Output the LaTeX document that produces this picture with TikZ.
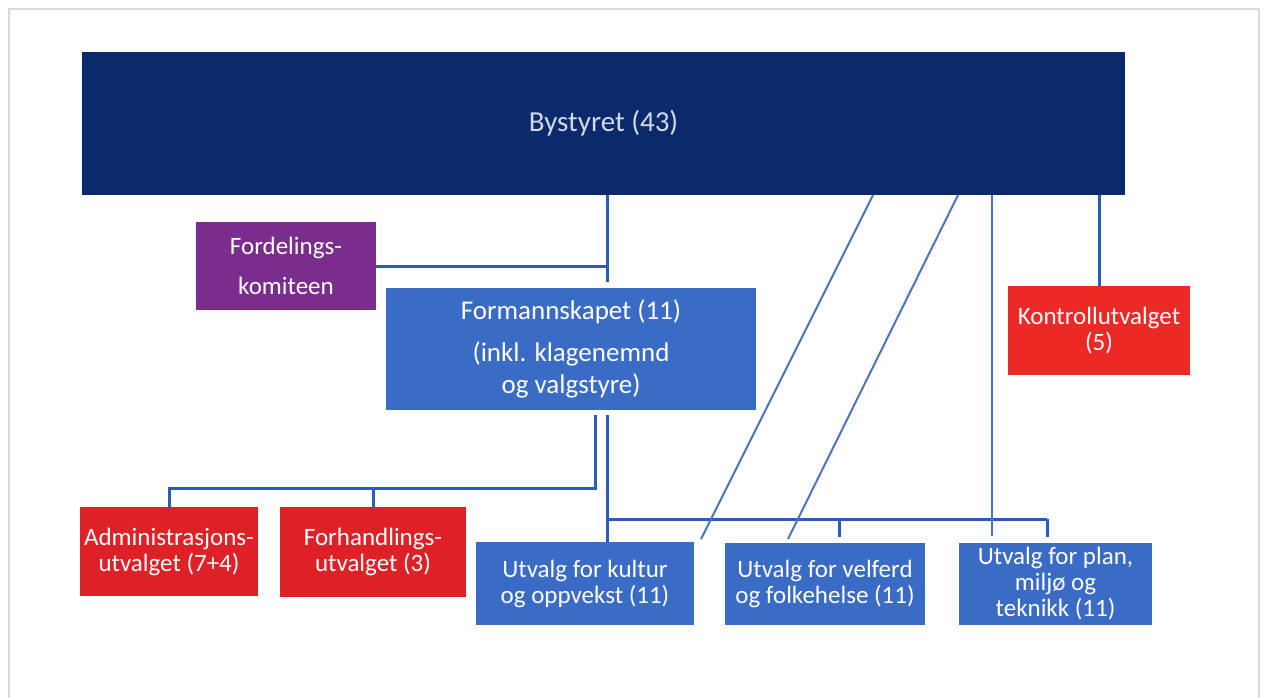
\documentclass[tikz,border=0pt]{standalone}
\usepackage{fontspec}
\setmainfont{Carlito}
\usetikzlibrary{positioning}

\definecolor{navy}{HTML}{0B2A6C}
\definecolor{lilla}{HTML}{7B2D8E}
\definecolor{blaa}{HTML}{3A6BC5}
\definecolor{roed}{HTML}{DD2127}
\definecolor{lysroed}{HTML}{EC2A25}
\definecolor{strek}{HTML}{2C5DB6}
\definecolor{ramme}{HTML}{DADADA}

\begin{document}
\begin{tikzpicture}[
  x=1pt, y=-1pt,
  boks/.style={rectangle, inner sep=0pt, align=center, text=white, font=\fontsize{25}{26}\selectfont},
  styreboks/.style={boks, fill=navy, text=white!82!navy, font=\fontsize{29}{32}\selectfont},
  komiteboks/.style={boks, fill=lilla},
  blaaboks/.style={boks, fill=blaa},
  roedboks/.style={boks, fill=roed},
  link/.style={draw=strek, line width=3pt},
  tynnlink/.style={draw=strek!85!white, line width=2pt}
]

\useasboundingbox (0,0) rectangle (1265,697);
\draw[ramme, line width=2pt] (9,700) -- (9,9) -- (1259,9) -- (1259,700);

\node[styreboks, minimum width=1043pt, minimum height=143pt] (bystyret) at (603.5,123.5) {Bystyret (43)};
\node[komiteboks, minimum width=180pt, minimum height=88pt] (fordeling) at (286,266) {Fordelings-\\[14pt]komiteen};
\node[blaaboks, minimum width=370pt, minimum height=122pt, font=\fontsize{27}{32}\selectfont] (formann) at (571,349) {Formannskapet (11)\\[10pt](inkl. klagenemnd\\og valgstyre)};
\node[boks, fill=lysroed, minimum width=182pt, minimum height=89pt] (kontroll) at (1099,330.5) {Kontrollutvalget\\(5)};
\node[roedboks, minimum width=178pt, minimum height=89pt] (admin) at (169,551.5) {Administrasjons-\\utvalget (7+4)};
\node[roedboks, minimum width=186pt, minimum height=90pt] (forhandl) at (373,552) {Forhandlings-\\utvalget (3)};
\node[blaaboks, minimum width=218pt, minimum height=83pt] (kultur) at (585,583.5) {Utvalg for kultur\\og oppvekst (11)};
\node[blaaboks, minimum width=200pt, minimum height=82pt] (velferd) at (825,584) {Utvalg for velferd\\og folkehelse (11)};
\node[blaaboks, minimum width=193pt, minimum height=82pt] (plan) at (1055.5,584) {Utvalg for plan,\\miljø og\\teknikk (11)};

\coordinate (fjunc) at (607,266);
\coordinate (sa) at (595,488);
\coordinate (sb) at (607,519);
\coordinate (v1) at (839,519);
\coordinate (v2) at (1047,519);
\coordinate (d1) at (873,195);
\coordinate (d1end) at (701,539);
\coordinate (d2) at (958,195);
\coordinate (d2end) at (788,539);
\coordinate (vp) at (992,195);

\draw[link, shorten >=6pt] (bystyret.south -| fjunc) -- (fjunc |- formann.north);
\draw[link] (fordeling.east) -- (fjunc);
\draw[link] (bystyret.south -| kontroll.north) -- (kontroll.north);

\draw[link, shorten <=5pt] (formann.south -| sa) -- (sa) -| (admin.north);
\draw[link] (sa -| forhandl.north) -- (forhandl.north);

\draw[link, shorten <=5pt] (formann.south -| sb) -- (sb |- kultur.north);
\draw[link] (sb) -- (v2);
\draw[link, shorten >=6pt] (v1) -- (v1 |- velferd.north);
\draw[link, shorten >=6pt] (v2) -- (v2 |- plan.north);

\draw[tynnlink] (d1) -- (d1end);
\draw[tynnlink] (d2) -- (d2end);
\draw[tynnlink, shorten >=7pt] (vp) -- (vp |- plan.north);

\end{tikzpicture}
\end{document}
